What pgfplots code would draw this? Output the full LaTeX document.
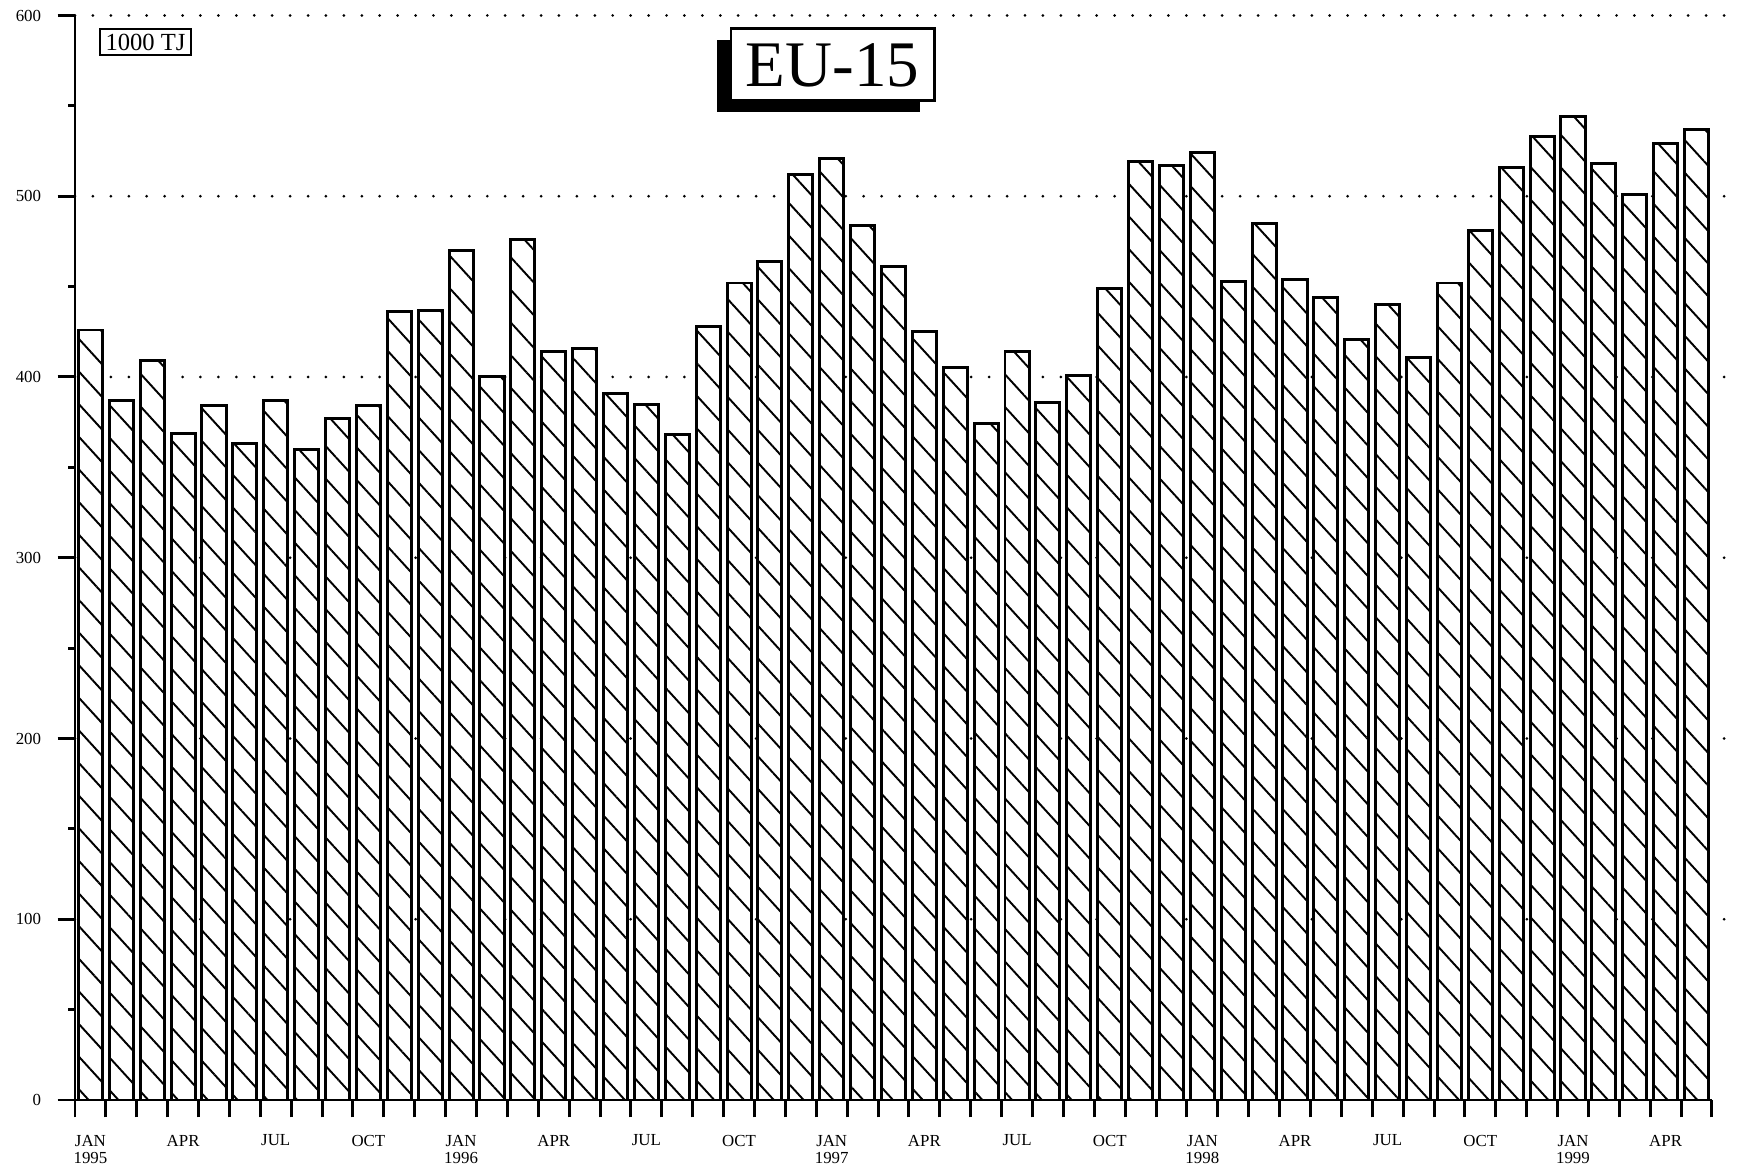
\documentclass[border=0pt]{standalone}
\usepackage{fontspec}
\setmainfont{Liberation Serif}
\usepackage{pgfplots}
\pgfplotsset{compat=1.18}
\usetikzlibrary{patterns.meta}

% monthly values, 1000 TJ, Jan 1995 - May 1999
\pgfplotstableread{
x  v
0  426
1  387
2  409
3  369
4  384
5  363
6  387
7  360
8  377
9  384
10 436
11 437
12 470
13 400
14 476
15 414
16 416
17 391
18 385
19 368
20 428
21 452
22 464
23 512
24 521
25 484
26 461
27 425
28 405
29 374
30 414
31 386
32 401
33 449
34 519
35 517
36 524
37 453
38 485
39 454
40 444
41 421
42 440
43 411
44 452
45 481
46 516
47 533
48 544
49 518
50 501
51 529
52 537
}\gasdata

\tikzset{gridline/.style={line width=0.85pt, line cap=round, dash pattern=on 0pt off 5.1pt}}

\begin{document}
\begin{tikzpicture}
\begin{axis}[
    scale only axis,
    width=163.7mm, height=108.45mm,
    xmin=-0.5, xmax=52.5,
    ymin=0, ymax=600,
    clip=false,
    axis lines*=left,
    axis line style={line width=0.85pt},
    tick style={line width=0.85pt, black},
    tick align=outside,
    major tick length=1.75mm,
    minor tick length=0.7mm,
    ytick={0,100,...,600},
    minor ytick={50,150,...,550},
    yticklabel style={font=\fontsize{4.8}{5}\selectfont, xshift=-0.4mm},
    xtick={-0.5,0.5,...,52.5},
    xticklabels={},
    extra x ticks={0,3,...,51},
    extra x tick labels={{JAN\\1995},APR,JUL,OCT,{JAN\\1996},APR,JUL,OCT,{JAN\\1997},APR,JUL,OCT,{JAN\\1998},APR,JUL,OCT,{JAN\\1999},APR},
    extra x tick style={major tick length=0pt,
        xticklabel style={align=center, font=\fontsize{4.8}{4.9}\selectfont, yshift=-2.25mm}},
    /pgf/number format/assume math mode=true,
]
\pgfplotsinvokeforeach{100,200,...,600}{
    \draw[gridline] (axis cs:-0.5,#1) -- (axis cs:53.4,#1);
}
\addplot[ybar, bar width=0.78, draw=black, line width=0.85pt, fill=white,
    postaction={pattern={Lines[angle=-47.6, distance=2.2mm, line width=0.55pt]}}]
    table[x=x, y=v] {\gasdata};
\draw[line width=0.85pt] (axis cs:-0.5,0) -- ++(-1.8mm,0);
\end{axis}

% unit box and region box
\node[draw, line width=0.5pt, inner sep=0pt, minimum width=9.1mm, minimum height=2.6mm,
      font=\fontsize{7}{7}\selectfont] at (7.05mm,105.8mm) {1000 TJ};
\fill[black] (65.6mm-1.45mm,99.9mm-1.1mm) rectangle ++(20.3mm,7.2mm);
\node[draw, fill=white, line width=0.85pt, inner sep=0pt, minimum width=20.3mm, minimum height=7.2mm,
      font=\fontsize{18.5}{18.5}\selectfont] at (75.75mm,103.5mm) {EU-15};

\pgfresetboundingbox
\useasboundingbox (-7.5mm,-6.6mm) rectangle (166.2mm,110.0mm);
\end{tikzpicture}
\end{document}
